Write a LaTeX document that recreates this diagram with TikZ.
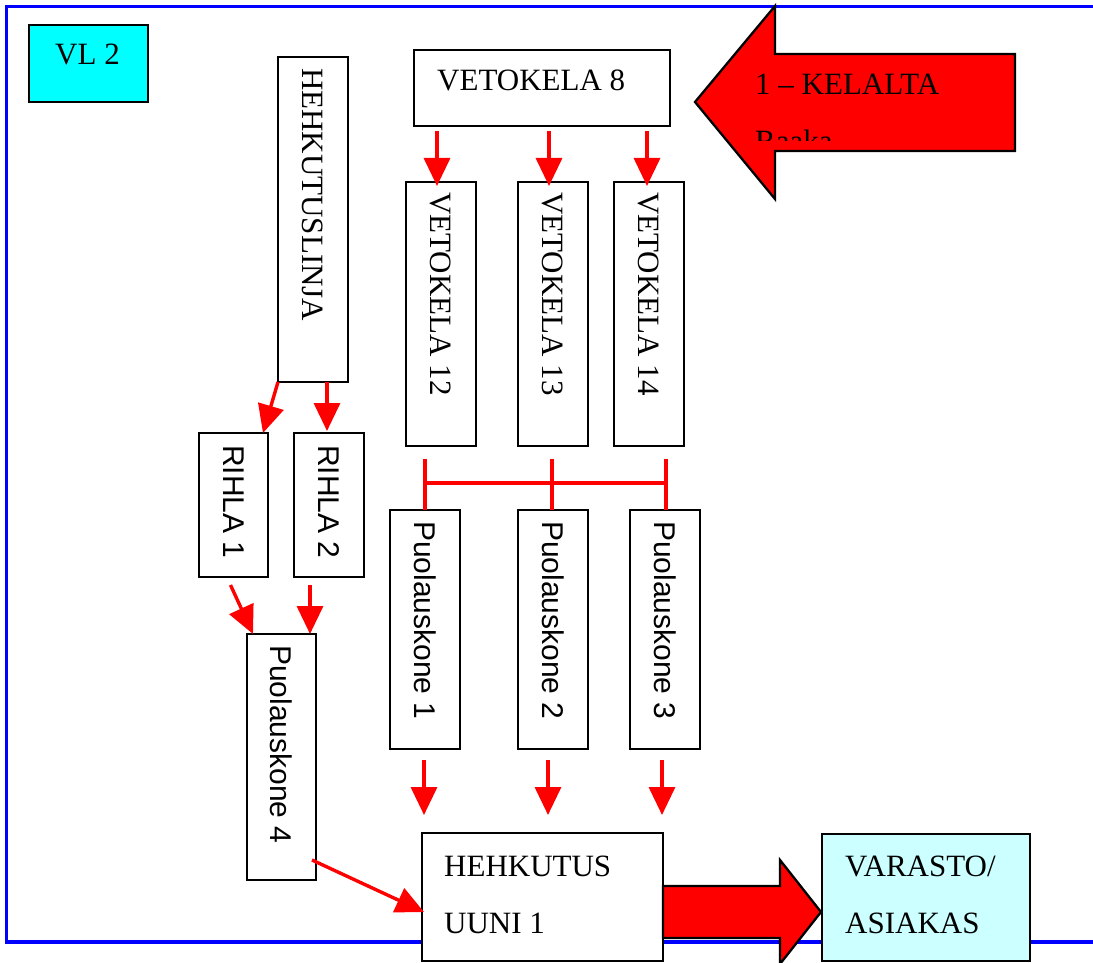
\documentclass[tikz,border=0pt]{standalone}
\usepackage{fontspec}
\setmainfont{Liberation Serif}
\newfontfamily\arialfont{Liberation Sans}
\usetikzlibrary{calc,arrows.meta}
\definecolor{frameblue}{RGB}{0,0,255}
\definecolor{boxcyan}{RGB}{0,255,255}
\definecolor{palecyan}{RGB}{204,255,255}
\definecolor{flowred}{RGB}{255,0,0}
\begin{document}
\begin{tikzpicture}[x=1pt,y=-1pt,
  box/.style={draw=black,line width=2.3pt,fill=white,anchor=north west,inner sep=0pt,outer sep=0pt},
  serif/.style={font=\fontsize{31pt}{31pt}\selectfont},
  sans/.style={font=\arialfont\fontsize{30pt}{30pt}\selectfont},
  lbl/.style={serif,anchor=base west,inner sep=0pt},
  vlbl/.style={rotate=-90,anchor=west,inner sep=0pt},
  flow/.style={draw=flowred,line width=3.4pt,-{Triangle[width=26pt,length=28pt]}},
  tie/.style={draw=flowred,line width=3.4pt},
  bigarrow/.style={draw=black,line width=2.3pt,fill=flowred,line join=miter}
]
\useasboundingbox (0,0) rectangle (1093,963);

% outer frame
\draw[frameblue,line width=3.5pt] (1093,6.5) -- (6.5,6.5) -- (6.5,942) -- (1093,942);

% title box
\node[box,fill=boxcyan,minimum width=119pt,minimum height=77pt] (vl) at (29,25) {};
\node[lbl] (vlt) at ($(vl.north west)+(26,40)$) {VL 2};

% drawing line branch
\node[box,minimum width=70pt,minimum height=325pt] (hl) at (278,57) {};
\node[vlbl,serif] (hlt) at ($(hl.north)+(0,11)$) {HEHKUTUSLINJA};

\node[box,minimum width=69pt,minimum height=144pt] (r1) at (199,433) {};
\node[vlbl,sans] (r1t) at ($(r1.north)+(0,12)$) {RIHLA 1};
\node[box,minimum width=70pt,minimum height=144pt] (r2) at (294,433) {};
\node[vlbl,sans] (r2t) at ($(r2.north)+(0,12)$) {RIHLA 2};

\node[box,minimum width=69pt,minimum height=246pt] (p4) at (247,634) {};
\node[vlbl,sans] (p4t) at ($(p4.north)+(0,11)$) {Puolauskone 4};

% draw block 8 and its branches
\node[box,minimum width=256pt,minimum height=76pt] (v8) at (414,50) {};
\node[lbl] (v8t) at ($(v8.north west)+(23,41)$) {VETOKELA 8};

\node[box,minimum width=70pt,minimum height=264pt] (v12) at (406,182) {};
\node[vlbl,serif] (v12t) at ($(v12.north)+(0,10)$) {VETOKELA 12};
\node[box,minimum width=70pt,minimum height=264pt] (v13) at (518,182) {};
\node[vlbl,serif] (v13t) at ($(v13.north)+(0,10)$) {VETOKELA 13};
\node[box,minimum width=70pt,minimum height=264pt] (v14) at (614,182) {};
\node[vlbl,serif] (v14t) at ($(v14.north)+(0,10)$) {VETOKELA 14};

\node[box,minimum width=70pt,minimum height=239pt] (p1) at (390,510) {};
\node[vlbl,sans] (p1t) at ($(p1.north)+(0,11)$) {Puolauskone 1};
\node[box,minimum width=70pt,minimum height=239pt] (p2) at (518,510) {};
\node[vlbl,sans] (p2t) at ($(p2.north)+(0,11)$) {Puolauskone 2};
\node[box,minimum width=70pt,minimum height=239pt] (p3) at (630,510) {};
\node[vlbl,sans] (p3t) at ($(p3.north)+(0,11)$) {Puolauskone 3};

% furnace and storage
\node[box,minimum width=241pt,minimum height=128pt] (hu) at (422,833) {};
\node[lbl] (hut1) at ($(hu.north west)+(22,43)$) {HEHKUTUS};
\node[lbl] (hut2) at ($(hu.north west)+(22,100)$) {UUNI 1};

\node[box,fill=palecyan,minimum width=208pt,minimum height=127pt] (va) at (822,834) {};
\node[lbl] (vat1) at ($(va.north west)+(23,42)$) {VARASTO/};
\node[lbl] (vat2) at ($(va.north west)+(23,99)$) {ASIAKAS};

% incoming raw material arrow
\draw[bigarrow] (1015,54) -- (775,54) -- (775,6) -- (695,102) -- (775,199) -- (775,151) -- (1015,151) -- cycle;
\begin{scope}
  \clip (740,54) rectangle (1015,141);
  \node[lbl] (kel) at (755,95) {1 – KELALTA};
  \node[lbl] (raaka) at (755,152) {Raaka};
\end{scope}

% outgoing arrow to storage
\draw[bigarrow] (663,886) -- (780,886) -- (780,860) -- (821,912) -- (780,964) -- (780,938) -- (663,938) -- cycle;

% connectors
\draw[flow] ($(v8.south -| v12.north)+(-4,5)$) -- ($(v12.north)+(-4,4)$);
\draw[flow] ($(v8.south -| v13.north)+(-4,5)$) -- ($(v13.north)+(-4,4)$);
\draw[flow] ($(v8.south -| v14.north)+(-2,5)$) -- ($(v14.north)+(-2,4)$);

\draw[tie] ($(p1.north)+(0,-51)$) -- (p1.north);
\draw[tie] ($(p2.north)+(-1,-51)$) -- ($(p2.north)+(-1,0)$);
\draw[tie] ($(p3.north)+(1,-51)$) -- ($(p3.north)+(1,0)$);
\draw[tie] ($(p1.north)+(0,-27)$) -- ($(p3.north)+(1,-27)$);

\draw[flow] ($(p1.south)+(-1,11)$) -- ($(p1.south |- hu.north)+(-1,-18)$);
\draw[flow] ($(p2.south)+(-5,11)$) -- ($(p2.south |- hu.north)+(-5,-18)$);
\draw[flow] ($(p3.south)+(-3,11)$) -- ($(p3.south |- hu.north)+(-3,-18)$);

\draw[flow] (hl.south west) -- ($(r1.north east)+(-5,0)$);
\draw[flow] ($(r2.north |- hl.south)+(-2,0)$) -- ($(r2.north)+(-2,-2)$);
\draw[flow] ($(r1.south)+(-3,8)$) -- ($(p4.north west)+(6,0)$);
\draw[flow] ($(r2.south)+(-19,8)$) -- ($(p4.north east)+(-6,0)$);
\draw[flow] ($(p4.south east)+(-4,-20)$) -- ($(hu.north west)+(2,79)$);
\end{tikzpicture}
\end{document}
